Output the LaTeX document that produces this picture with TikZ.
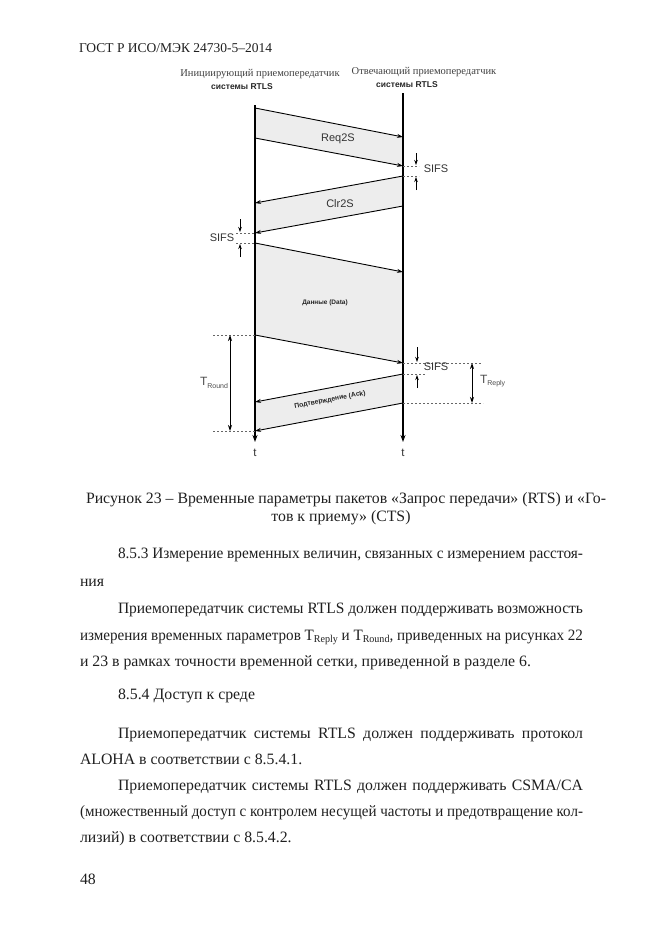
\documentclass[tikz,border=0pt]{standalone}
\usepackage{fontspec}
\usepackage{graphicx}
\setmainfont{Liberation Serif}
\setsansfont{Liberation Sans}
\usetikzlibrary{arrows.meta}
\newcommand{\subsm}[1]{\raisebox{-2.5pt}{\fontsize{10.5}{10}\selectfont #1}}
\newcommand{\subdg}[1]{\raisebox{-2.5pt}{\fontsize{7}{8}\selectfont #1}}
\newsavebox{\jlinebox}
\newcommand{\jline}[2]{\sbox{\jlinebox}{#2}\ifdim\wd\jlinebox>#1\relax\resizebox{#1}{\height}{\usebox{\jlinebox}}\else\makebox[#1][s]{#2}\fi}
\begin{document}
\begin{tikzpicture}[x=1pt,y=-1pt,
  every node/.style={inner sep=0pt, outer sep=0pt},
  life/.style={line width=1.2pt, -{Stealth[length=7pt,width=5pt]}},
  msg/.style={line width=0.9pt, -{Stealth[length=6pt,width=4pt]}},
  tick/.style={line width=0.8pt, -{Stealth[length=5pt,width=3.5pt]}},
  dim/.style={line width=0.9pt, {Stealth[length=6pt,width=4pt]}-{Stealth[length=6pt,width=4pt]}},
  guide/.style={line width=0.6pt, dash pattern=on 2pt off 2pt, black!60},
  pkt/.style={fill=black!7, draw=none},
  lbl/.style={font=\sffamily\fontsize{11}{12}\selectfont, text=black!80},
  head/.style={font=\fontsize{10.5}{12}\selectfont, text=black!75},
  headb/.style={font=\sffamily\bfseries\fontsize{8.5}{10}\selectfont, text=black!85},
  body/.style={anchor=base west, font=\fontsize{15.8}{18}\selectfont, text=black!88},
]
\useasboundingbox (0,0) rectangle (661,935);

% page header
\node[body, font=\fontsize{13.5}{16}\selectfont] (gost) at (79,52) {ГОСТ Р ИСО/МЭК 24730-5--2014};

% headers
\node[head] (hl1) at (260,74) {Инициирующий приемопередатчик};
\node[headb] (hl2) at (242,87) {системы RTLS};
\node[head] (hr1) at (424,72) {Отвечающий приемопередатчик};
\node[headb] (hr2) at (407,85) {системы RTLS};

% coordinates
\coordinate (Ltop) at (255,105);
\coordinate (Lbot) at (255,442);
\coordinate (Rtop) at (403,93);
\coordinate (Rbot) at (403,442);

\coordinate (a1) at (255,108); \coordinate (b1) at (403,137);
\coordinate (a2) at (255,138); \coordinate (b2) at (403,166);
\coordinate (c1) at (403,176); \coordinate (d1) at (255,203);
\coordinate (c2) at (403,206); \coordinate (d2) at (255,233);
\coordinate (e1) at (255,243); \coordinate (f1) at (403,272);
\coordinate (e2) at (255,335); \coordinate (f2) at (403,363);
\coordinate (g1) at (403,374); \coordinate (h1) at (255,402);
\coordinate (g2) at (403,403); \coordinate (h2) at (255,431);

% packet fills
\fill[pkt] (a1) -- (b1) -- (b2) -- (a2) -- cycle;
\fill[pkt] (c1) -- (d1) -- (d2) -- (c2) -- cycle;
\fill[pkt] (e1) -- (f1) -- (f2) -- (e2) -- cycle;
\fill[pkt] (g1) -- (h1) -- (h2) -- (g2) -- cycle;

% lifelines
\draw[life] (Ltop) -- (Lbot);
\draw[life, line width=1.7pt] (Rtop) -- (Rbot);

% messages
\draw[msg] (a1) -- (b1);
\draw[msg] (a2) -- (b2);
\draw[msg] (c1) -- (d1);
\draw[msg] (c2) -- (d2);
\draw[msg] (e1) -- (f1);
\draw[msg] (e2) -- (f2);
\draw[msg] (g1) -- (h1);
\draw[msg] (g2) -- (h2);

% packet labels
\node[lbl] (req) at (338,139) {Req2S};
\node[lbl] (clr) at (340,204) {Clr2S};
\node[font=\sffamily\bfseries\fontsize{6.5}{8}\selectfont, text=black!85] (data) at (325,303) {Данные (Data)};
\node[font=\sffamily\bfseries\fontsize{6.8}{8}\selectfont, text=black!85, rotate=10.7] (ack) at (330,400) {Подтверждение (Ack)};

% SIFS right 1
\coordinate (s1a) at (419,166); \coordinate (s1b) at (419,176);
\draw[guide] (b2) -- (s1a);
\draw[guide] (c1) -- (s1b);
\coordinate (s1t) at (416,153); \coordinate (s1te) at (416,165);
\coordinate (s1u) at (416,190); \coordinate (s1ue) at (416,177);
\draw[tick] (s1t) -- (s1te);
\draw[tick] (s1u) -- (s1ue);
\node[lbl] (sifs1) at (436,169) {SIFS};

% SIFS left
\coordinate (s2a) at (236,233); \coordinate (s2b) at (236,243);
\draw[guide] (s2a) -- (d2);
\draw[guide] (s2b) -- (e1);
\coordinate (s2t) at (240,219); \coordinate (s2te) at (240,232);
\coordinate (s2u) at (240,257); \coordinate (s2ue) at (240,244);
\draw[tick] (s2t) -- (s2te);
\draw[tick] (s2u) -- (s2ue);
\node[lbl] (sifs2) at (222,238) {SIFS};

% SIFS right 2
\coordinate (s3a) at (482,363); \coordinate (s3b) at (425,374);
\draw[guide] (f2) -- (s3a);
\draw[guide] (g1) -- (s3b);
\coordinate (s3t) at (417,347); \coordinate (s3te) at (417,362);
\coordinate (s3u) at (417,388); \coordinate (s3ue) at (417,375);
\draw[tick] (s3t) -- (s3te);
\draw[tick] (s3u) -- (s3ue);
\node[lbl] (sifs3) at (436,367) {SIFS};

% T_Reply
\coordinate (rp) at (483,403);
\draw[guide] (g2) -- (rp);
\coordinate (rpa) at (472,363); \coordinate (rpb) at (472,403);
\draw[dim] (rpa) -- (rpb);
\node[lbl, font=\sffamily\fontsize{12}{12}\selectfont, text=black!70, anchor=west] (treply) at (480,381) {T\subdg{Reply}};

% T_Round
\coordinate (rd1) at (213,335); \coordinate (rd2) at (213,431);
\draw[guide] (rd1) -- (e2);
\draw[guide] (rd2) -- (h2);
\coordinate (rda) at (230,335); \coordinate (rdb) at (230,431);
\draw[dim] (rda) -- (rdb);
\node[lbl, font=\sffamily\fontsize{12}{12}\selectfont, text=black!70, anchor=east] (tround) at (228,383) {T\subdg{Round}};

% time labels
\node[lbl, font=\sffamily\fontsize{11.5}{12}\selectfont] (tl) at (255,453) {t};
\node[lbl, font=\sffamily\fontsize{11.5}{12}\selectfont] (tr) at (403,453) {t};

% caption
\node[body] (cap1) at (86,503) {Рисунок 23 -- Временные параметры пакетов «Запрос передачи» (RTS) и «Го-};
\node[body, anchor=base] (cap2) at (341,521) {тов к приему» (CTS)};

% body text
\node[body] (p1) at (118,558) {\jline{465pt}{8.5.3 Измерение временных величин, связанных с измерением расстоя-}};
\node[body] (p2) at (80,586) {ния};
\node[body] (p3) at (118,613) {\jline{465pt}{Приемопередатчик системы RTLS должен поддерживать возможность}};
\node[body] (p4) at (80,640) {\jline{503pt}{измерения временных параметров T\subsm{Reply} и T\subsm{Round}, приведенных на рисунках 22}};
\node[body] (p5) at (80,666) {и 23 в рамках точности временной сетки, приведенной в разделе 6.};
\node[body] (p6) at (118,699) {8.5.4 Доступ к среде};
\node[body] (p7) at (118,738) {\jline{465pt}{Приемопередатчик системы RTLS должен поддерживать протокол}};
\node[body] (p8) at (80,764) {ALOHA в соответствии с 8.5.4.1.};
\node[body] (p9) at (118,790) {\jline{465pt}{Приемопередатчик системы RTLS должен поддерживать CSMA/CA}};
\node[body] (p10) at (80,816) {\jline{503pt}{(множественный доступ с контролем несущей частоты и предотвращение кол-}};
\node[body] (p11) at (80,842) {лизий) в соответствии с 8.5.4.2.};
\node[body] (pg) at (80,884) {48};
\end{tikzpicture}
\end{document}
